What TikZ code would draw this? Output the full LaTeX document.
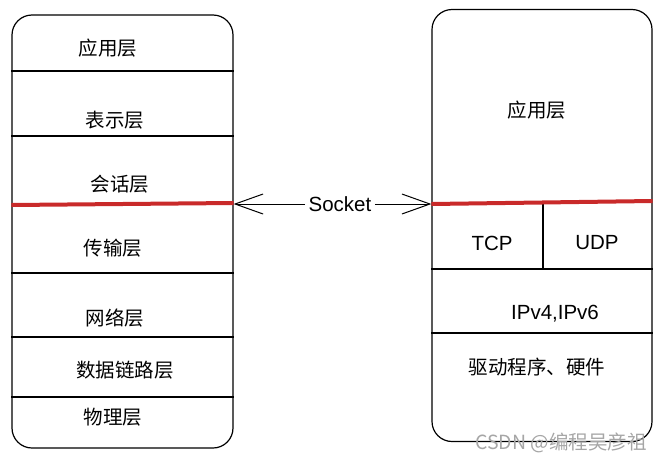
\documentclass[tikz,border=0pt]{standalone}
\usepackage{fontspec}
\setmainfont{Liberation Sans}
\newfontfamily\cjk{Noto Sans CJK SC}
\usetikzlibrary{arrows.meta,positioning}

\definecolor{cutred}{RGB}{201,42,42}

\begin{document}
\begin{tikzpicture}[
            x=1pt, y=-1pt,
            stackbox/.style={draw, line width=1.2pt, rounded corners=20pt, inner sep=0pt},
            layerline/.style={line width=1.3pt},
            cutline/.style={cutred, line width=4pt},
            zh/.style={font=\cjk\fontsize{19.5}{22}\selectfont},
            en/.style={font=\fontsize{20.5}{23}\selectfont},
            sockarrow/.style={line width=1pt, -{Straight Barb[length=28pt,width=20pt,line width=1pt]}}
        ]
            \useasboundingbox (0,0) rectangle (664,466);

            % the two stacks
            \node[stackbox, minimum width=221pt, minimum height=433pt] (osi) at (122.5,231.5) {};
            \node[stackbox, minimum width=220pt, minimum height=432pt] (tcpip) at (542,225.5) {};

            % OSI layers
            \node[zh] (app) at (108,48) {应用层};
            \node[zh] (pres) at (115,120) {表示层};
            \node[zh] (sess) at (120,184) {会话层};
            \node[zh] (trans) at (113,248) {传输层};
            \node[zh] (net) at (115,318) {网络层};
            \node[zh] (link) at (125,370) {数据链路层};
            \node[zh] (phys) at (113,417) {物理层};

            \foreach \y in {71,136,273,337,397}
                \draw[layerline] (osi.west |- 0,\y) -- (osi.east |- 0,\y);

            % TCP/IP layers
            \node[zh] (tapp) at (537,110) {应用层};
            \node[en] (tcp) at (492,243) {TCP};
            \node[en] (udp) at (597,243) {UDP};
            \node[en] (ip) at (555,314) {IPv4,IPv6};
            \node[zh] (drv) at (537,367) {驱动程序、硬件};

            \coordinate (split) at (543,203);
            \draw[layerline] (split) -- (543,268);
            \draw[layerline] (tcpip.west |- 0,269) -- (tcpip.east |- 0,269);
            \draw[layerline] (tcpip.west |- 0,333) -- (tcpip.east |- 0,333);

            % socket cut
            \draw[cutline] (osi.west |- 0,205) -- (osi.east |- 0,203);
            \draw[cutline] (tcpip.west |- 0,204) -- (tcpip.east |- 0,201);

            \node[en] (sock) at (340,204) {Socket};
            \draw[sockarrow] (sock.west) -- (osi.east |- sock.west);
            \draw[sockarrow] (sock.east) -- (tcpip.west |- sock.east);

            \node[font=\cjk\fontsize{19.5}{22}\selectfont, text=black!35] (mark) at (561,443) {CSDN @编程吴彦祖};
        \end{tikzpicture}
\end{document}
